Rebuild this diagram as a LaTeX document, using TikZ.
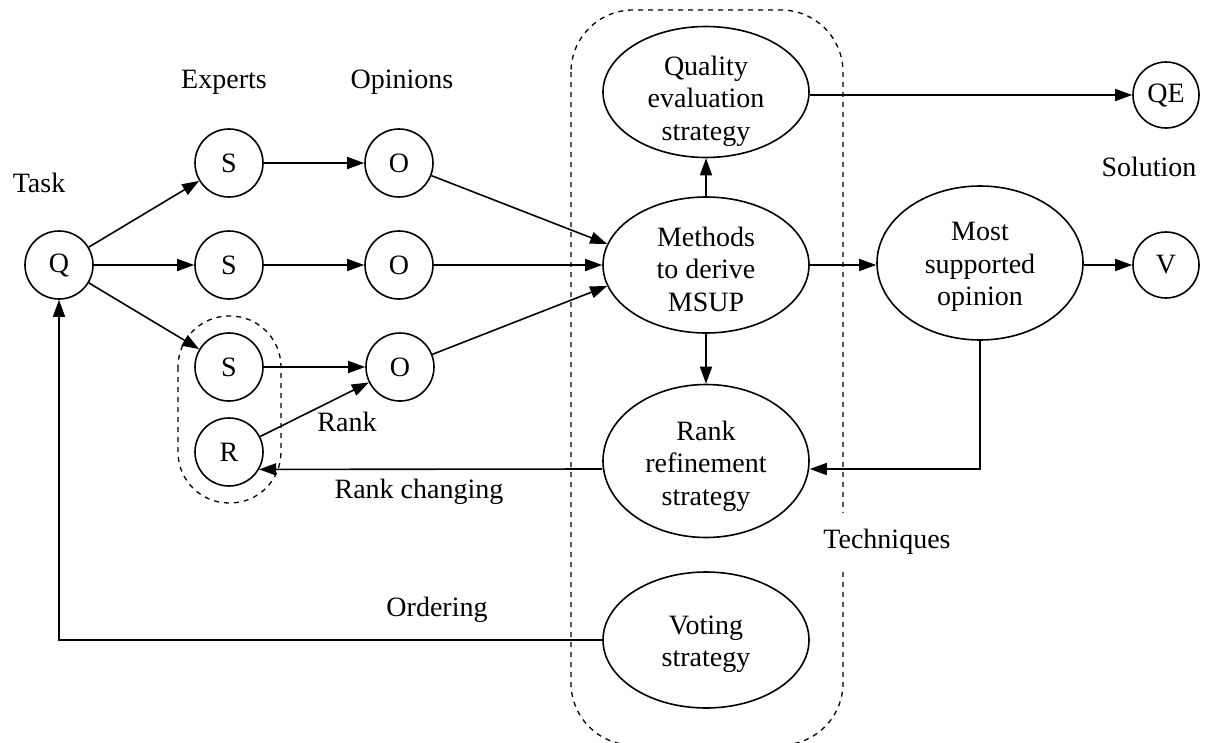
\documentclass[tikz,border=0pt]{standalone}
\usepackage{fontspec}
\setmainfont{Liberation Serif}
\usetikzlibrary{arrows.meta,shapes.geometric,calc}
\tikzset{
  txt/.style={font=\fontsize{28}{32.5}\selectfont, inner sep=0pt, align=center},
  circ/.style={txt, draw, circle, line width=1.6pt, minimum size=68pt},
  ell/.style={txt, draw, ellipse, line width=1.6pt, minimum width=206pt},
  etext/.style 2 args={label={[txt, yshift=-#1pt]center:#2}},
  arr/.style={line width=1.6pt, -{Triangle[length=17pt,width=12pt]}},
  cluster/.style={line width=1.3pt, dash pattern=on 5pt off 5pt},
  lbl/.style={txt}
}
\begin{document}
\begin{tikzpicture}[x=1pt,y=-1pt]
\path[use as bounding box, clip] (0,0) rectangle (1208,742);
% clusters
\draw[cluster, rounded corners=62pt] (571,10) rectangle (843,745);
\draw[cluster, rounded corners=51pt] (178,316) rectangle (281,503);
% circle nodes
\node[circ] (Q) at (59,265) {Q};
\node[circ] (S1) at (229,163) {S};
\node[circ] (O1) at (399,163) {O};
\node[circ] (S2) at (229,265) {S};
\node[circ] (O2) at (399,265) {O};
\node[circ] (S3) at (229,367) {S};
\node[circ] (O3) at (400,367) {O};
\node[circ] (R) at (229,452) {R};
\node[circ, minimum size=66pt] (QE) at (1166,95) {QE};
\node[circ, minimum size=66pt] (V) at (1166,265) {V};
% ellipse nodes
\node[ell, minimum height=131pt, etext={9}{Quality\\evaluation\\strategy}] (QES) at (706,92) {};
\node[ell, minimum height=136pt, etext={4}{Methods\\to derive\\MSUP}] (M) at (706,265) {};
\node[ell, minimum height=153pt, etext={5}{Rank\\refinement\\strategy}] (RR) at (706,461) {};
\node[ell, minimum height=136pt, etext={4}{Voting\\strategy}] (VS) at (706,640) {};
\node[ell, minimum height=154pt, etext={4}{Most\\supported\\opinion}] (MSO) at (980,263) {};
% labels
\node[lbl] (tTask) at (39,183) {Task};
\node[lbl] (tExp) at (224,82) {Experts};
\node[lbl] (tOpi) at (402,82) {Opinions};
\node[lbl] (tSol) at (1149,167) {Solution};
\node[lbl, fill=white, inner xsep=3pt, inner ysep=16pt] (tTech) at (887,542) {Techniques};
\node[lbl] (tRank) at (347,422) {Rank};
\node[lbl] (tRC) at (419,492) {Rank changing};
\node[lbl] (tOrd) at (437,610) {Ordering};
% edges
\draw[arr] (Q) -- (S1);
\draw[arr] (Q) -- (S2);
\draw[arr] (Q) -- (S3);
\draw[arr] (S1) -- (O1);
\draw[arr] (S2) -- (O2);
\draw[arr] (S3) -- (O3);
\draw[arr] (R) -- (O3);
\draw[arr] (O1) -- (M.168);
\draw[arr] (O2) -- (M.west);
\draw[arr] (O3) -- (M.192);
\draw[arr] (M.north) -- (QES.south);
\draw[arr] (M.south) -- (RR.north);
\draw[arr] (M.east) -- (M.east -| MSO.west);
\draw[arr] (MSO.east |- V) -- (V.west);
\draw[arr] (QES.east |- QE) -- (QE.west);
\draw[arr] (MSO.south) |- ($(RR.east)+(0,8)$);
\draw[arr] ($(RR.west)+(0,8)$) -- (R.-30);
\draw[arr] (VS.west) -| (Q.south);
\end{tikzpicture}
\end{document}
